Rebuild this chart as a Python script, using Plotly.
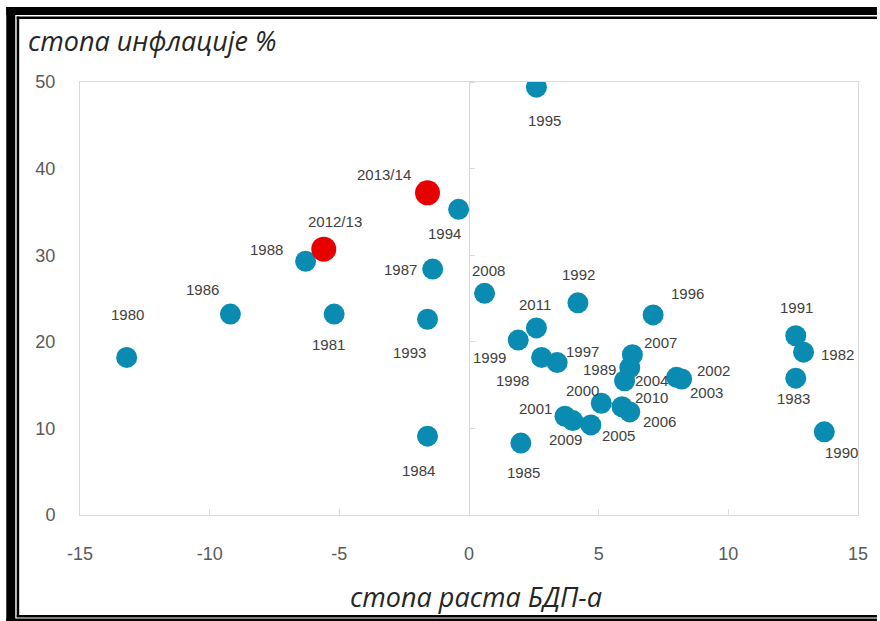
import plotly.graph_objects as go

# ---------------- data ----------------
years = ["1980", "1981", "1982", "1983", "1984", "1985", "1986", "1987", "1988", "1989",
         "1990", "1991", "1992", "1993", "1994", "1995", "1996", "1997", "1998", "1999",
         "2000", "2001", "2002", "2003", "2004", "2005", "2006", "2007", "2008", "2009",
         "2010", "2011"]
gdp_growth = [-13.2, -5.2, 12.9, 12.6, -1.6, 2.0, -9.2, -1.4, -6.3, 6.2,
              13.7, 12.6, 4.2, -1.6, -0.4, 2.6, 7.1, 3.4, 2.8, 1.9,
              5.1, 3.7, 8.0, 8.2, 6.0, 4.7, 6.2, 6.3, 0.6, 4.0,
              5.9, 2.6]
inflation = [18.2, 23.2, 18.8, 15.8, 9.1, 8.3, 23.2, 28.4, 29.3, 17.0,
             9.6, 20.7, 24.5, 22.6, 35.3, 49.4, 23.1, 17.6, 18.2, 20.2,
             12.9, 11.4, 15.9, 15.7, 15.5, 10.4, 11.9, 18.5, 25.6, 10.9,
             12.5, 21.6]

recent_periods = ["2012/13", "2013/14"]
recent_gdp = [-5.6, -1.6]
recent_inflation = [30.7, 37.2]

x_ticks = [-15, -10, -5, 0, 5, 10, 15]
y_ticks = [0, 10, 20, 30, 40, 50]

# ---------------- style ----------------
BLUE = "#0A8BB1"
RED = "#E60000"
LABEL_COLOR = "#404040"
TICK_COLOR = "#595959"
GRID = "#D9D9D9"
LABEL_FONT = dict(family="Liberation Sans, Arial, sans-serif", size=15, color=LABEL_COLOR)

# label pixel offsets (dx, dy) relative to each marker, dy positive = up
label_offsets = {
    "1980": (1, 43), "1981": (-6, -30), "1982": (34, -2), "1983": (-2, -20),
    "1984": (-9, -34), "1985": (3, -29), "1986": (-28, 25), "1987": (-32, 0),
    "1988": (-39, 12), "1989": (-30, -2), "1990": (17, -21), "1991": (1, 28),
    "1992": (1, 28), "1993": (-18, -33), "1994": (-14, -24), "1995": (8, -33),
    "1996": (34, 21), "1997": (25, 11), "1998": (-29, -23), "1999": (-29, -17),
    "2000": (-19, 13), "2001": (-29, 8), "2002": (37, 7), "2003": (25, -13),
    "2004": (27, 0), "2005": (28, -11), "2006": (30, -10), "2007": (28, 12),
    "2008": (4, 23), "2009": (-7, -19), "2010": (29, 9), "2011": (-1, 23),
    "2012/13": (11, 28), "2013/14": (-44, 18),
}

fig = go.Figure()

fig.add_trace(go.Scatter(
    x=gdp_growth, y=inflation, mode="markers",
    marker=dict(size=21, color=BLUE, line=dict(width=0)),
    hoverinfo="text", text=years, showlegend=False,
))
fig.add_trace(go.Scatter(
    x=recent_gdp, y=recent_inflation, mode="markers",
    marker=dict(size=25, color=RED, line=dict(width=0)),
    hoverinfo="text", text=recent_periods, showlegend=False,
))
# dummy trace so the secondary (centre) y axis with tick marks is drawn
fig.add_trace(go.Scatter(x=[None], y=[None], yaxis="y2", showlegend=False, hoverinfo="skip"))

annotations = []
for lbl, xv, yv in list(zip(years, gdp_growth, inflation)) + list(zip(recent_periods, recent_gdp, recent_inflation)):
    dx, dy = label_offsets[lbl]
    annotations.append(dict(
        x=xv, y=yv, xref="x", yref="y", text=lbl, showarrow=False,
        xshift=dx, yshift=dy, font=LABEL_FONT,
    ))

# plot area in pixels
L, R, T, B = 80, 861, 82, 515
W_FIG, H_FIG = 880, 621


def px(xp):
    return (xp - L) / (R - L)


def py(yp):
    return (B - yp) / (B - T)


annotations.append(dict(
    x=px(26), y=py(40), xref="paper", yref="paper", xanchor="left", yanchor="middle",
    text="<i>стопа инфлације %</i>", showarrow=False,
    font=dict(family="Open Sans, sans-serif", size=27, color="#262626"),
))
annotations.append(dict(
    x=px(478), y=py(596), xref="paper", yref="paper", xanchor="center", yanchor="middle",
    text="<i>стопа раста БДП-а</i>", showarrow=False,
    font=dict(family="Open Sans, sans-serif", size=27, color="#262626"),
))

shapes = []


def bar(x0, y0, x1, y1, w):
    shapes.append(dict(type="line", xref="paper", yref="paper",
                       x0=px(x0), x1=px(x1), y0=py(y0), y1=py(y1),
                       line=dict(color="black", width=w), layer="above"))

# outer double frame (lines: centre coordinates + width)
bar(10.5, 7, 10.5, 621, 9)       # left thick
bar(17.7, 16.5, 17.7, 617, 2.5)  # left thin
bar(6, 11, 880, 11, 8)           # top thick
bar(16.5, 17.7, 880, 17.7, 2.5)  # top thin
bar(16.5, 616.2, 880, 616.2, 2.5)  # bottom thin
bar(6, 620, 880, 620, 3)         # bottom thick

fig.update_layout(
    width=W_FIG, height=H_FIG,
    margin=dict(l=L, r=W_FIG - R, t=T, b=H_FIG - B),
    paper_bgcolor="white", plot_bgcolor="white",
    annotations=annotations, shapes=shapes,
    xaxis=dict(
        range=[-15, 15], tickvals=x_ticks, ticktext=[str(v) for v in x_ticks],
        showgrid=False, zeroline=True, zerolinecolor=GRID, zerolinewidth=1,
        showline=True, linecolor=GRID, linewidth=1, mirror=True,
        ticks="inside", ticklen=6, tickcolor=GRID,
        tickfont=dict(family="Liberation Sans, Arial, sans-serif", size=18, color=TICK_COLOR),
        ticklabelstandoff=22,
    ),
    yaxis=dict(
        range=[0, 50], tickvals=y_ticks, ticktext=[str(v) for v in y_ticks],
        showgrid=False, zeroline=False,
        showline=True, linecolor=GRID, linewidth=1, mirror=True,
        ticks="",
        tickfont=dict(family="Liberation Sans, Arial, sans-serif", size=18, color=TICK_COLOR),
        ticklabelstandoff=20,
    ),
    yaxis2=dict(
        range=[0, 50], tickvals=y_ticks, overlaying="y", anchor="free", position=0.5,
        side="right", showticklabels=False, showgrid=False, zeroline=False,
        showline=False, ticks="outside", ticklen=5, tickcolor=GRID,
    ),
)

fig.write_html(
    "out.html",
    config={"displayModeBar": False},
    post_script=(
        "document.body.style.margin='0';"
        "document.body.style.overflow='hidden';"
        "document.documentElement.style.overflow='hidden';"
    ),
)
